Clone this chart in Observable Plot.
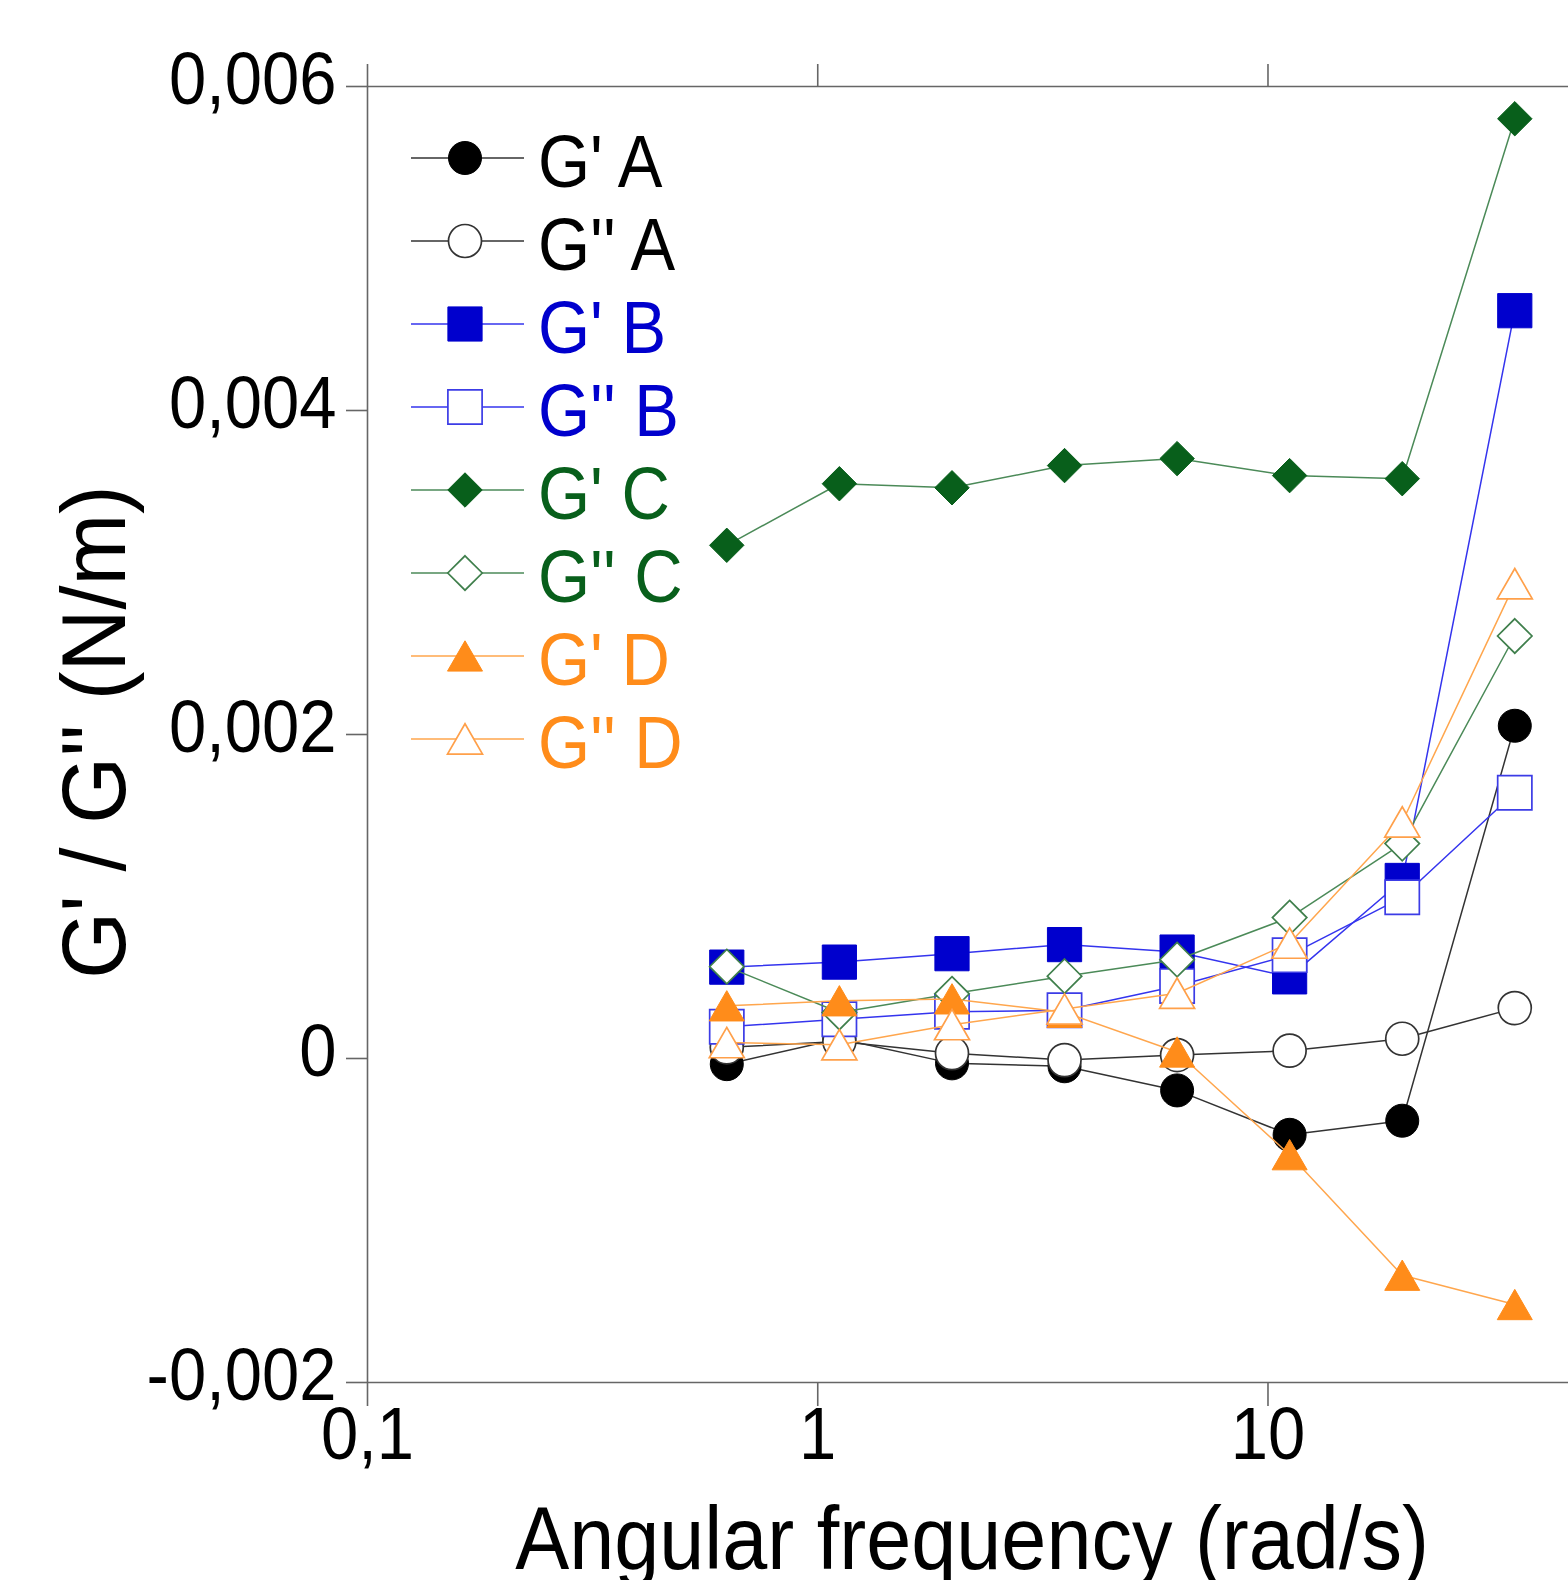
<!DOCTYPE html>
<html>
<head>
<meta charset="utf-8">
<script src="https://cdn.jsdelivr.net/npm/d3@7"></script>
<script src="https://cdn.jsdelivr.net/npm/@observablehq/plot@0.6"></script>
<style>
html, body { margin: 0; padding: 0; background: #fff; }
#chart { width: 1568px; height: 1580px; overflow: hidden; position: relative; }
</style>
</head>
<body>
<div id="chart"></div>
<script>
// ---------- data ----------
const freq = [0.628, 1.117, 1.987, 3.533, 6.283, 11.17, 19.87, 35.33]; // rad/s
const seriesNames = ["G' A", "G'' A", "G' B", "G'' B", "G' C", "G'' C", "G' D", "G'' D"];
const gpA  = [-0.000035, 0.000122, -0.000030, -0.000048, -0.000197, -0.000471, -0.000384, 0.002054];
const gppA = [0.000069, 0.000105, 0.000033, -0.000010, 0.000021, 0.000048, 0.000122, 0.000311];
const gpB  = [0.000564, 0.000595, 0.000647, 0.000703, 0.000657, 0.000504, 0.001099, 0.004616];
const gppB = [0.000196, 0.000242, 0.000288, 0.000298, 0.000447, 0.000638, 0.000995, 0.001640];
const gpC  = [0.003168, 0.003548, 0.003523, 0.003660, 0.003703, 0.003598, 0.003579, 0.005801];
const gppC = [0.000567, 0.000284, 0.000399, 0.000508, 0.000610, 0.000870, 0.001327, 0.002608];
const gpD  = [0.000325, 0.000356, 0.000368, 0.000285, 0.000040, -0.000594, -0.001338, -0.001519];
const gppD = [0.000098, 0.000085, 0.000209, 0.000305, 0.000403, 0.000712, 0.001460, 0.002931];
const xTicks = [0.1, 1, 10];
const yTicks = [-0.002, 0, 0.002, 0.004, 0.006];

// ---------- styles ----------
const seriesValues = [gpA, gppA, gpB, gppB, gpC, gppC, gpD, gppD];
const markerColors = ["#000000", "#000000", "#0000cd", "#0000cd", "#085f1b", "#085f1b", "#ff8c1a", "#ff8c1a"];
const lineColors   = ["#333333", "#333333", "#3434ee", "#3434ee", "#4b8a58", "#4b8a58", "#ffa64d", "#ffa64d"];
const openStroke   = ["#333333", "#333333", "#3c3ce6", "#3c3ce6", "#3f7f4c", "#3f7f4c", "#ffa04a", "#ffa04a"];
const symbolNames  = ["circle", "circle", "square", "square", "diamond2", "diamond2", "triangle", "triangle"];
const filled       = [true, false, true, false, true, false, true, false];
const symbolR = {circle: 16.5, square: 19.3, diamond2: 15.5, triangle: 13};
const symbolDy = {circle: 0, square: 0, diamond2: 0, triangle: 5};
const d3Symbols = {circle: d3.symbolCircle, square: d3.symbolSquare, diamond2: d3.symbolDiamond2, triangle: d3.symbolTriangle};

const FONT = "'Liberation Sans', Arial, Helvetica, sans-serif";
const fmtY = d => d === 0 ? "0" : d.toFixed(3).replace(".", ",");
const fmtX = d => String(d).replace(".", ",");

const tables = seriesValues.map((vals, s) => freq.map((f, i) => ({series: seriesNames[s], x: f, y: vals[i]})));

const seriesMarks = tables.flatMap((t, s) => {
  const sym = symbolNames[s];
  return [
    Plot.line(t, {x: "x", y: "y", stroke: lineColors[s], strokeWidth: 1.5}),
    Plot.dot(t, {
      x: "x", y: "y", symbol: () => sym, r: symbolR[sym], dy: symbolDy[sym],
      fill: filled[s] ? markerColors[s] : "white",
      stroke: filled[s] ? markerColors[s] : openStroke[s],
      strokeWidth: filled[s] ? 1 : 1.7
    })
  ];
});

const chart = Plot.plot({
  width: 1568,
  height: 1580,
  marginLeft: 367,
  marginRight: 0,
  marginTop: 86,
  marginBottom: 198,
  style: {fontFamily: FONT, background: "white", color: "#000"},
  x: {type: "log", domain: [0.1, 46.5]},
  y: {domain: [-0.002, 0.006]},
  symbol: {type: "identity"},
  marks: [
    Plot.ruleX([0.1], {stroke: "#666", strokeWidth: 1.6}),
    Plot.ruleY([-0.002, 0.006], {stroke: "#666", strokeWidth: 1.6}),
    // y ticks (marks only)
    Plot.axisY({ticks: yTicks, tickSize: 21, tickFormat: () => "", stroke: "#666", strokeWidth: 1.6, label: null}),
    // y tick labels
    Plot.axisY({ticks: yTicks, tickSize: 0, tickPadding: 31, tickFormat: fmtY, fontSize: 67, fill: "#000", dy: -6, label: null}),
    Plot.axisX({anchor: "bottom", ticks: xTicks, tickSize: 24, tickPadding: 0, tickFormat: fmtX, fontSize: 67, stroke: "#666", strokeWidth: 1.6, fill: "#000", label: null}),
    Plot.axisX({anchor: "top", ticks: xTicks, tickSize: 23, tickFormat: () => "", stroke: "#666", strokeWidth: 1.6, label: null}),
    ...seriesMarks
  ]
});

document.getElementById("chart").appendChild(chart);

// stretch text glyphs vertically, like the original's taller type
d3.select(chart).selectAll("text").each(function () {
  const t = this.getAttribute("transform") || "";
  this.setAttribute("transform", (t + " scale(1,1.1)").trim());
});

const svg = d3.select(chart);

// axis titles
svg.append("text")
  .attr("transform", "translate(972,1569) scale(1,1.1)")
  .attr("text-anchor", "middle")
  .attr("font-family", FONT).attr("font-size", 81).attr("fill", "#000")
  .text("Angular frequency (rad/s)");
svg.append("text")
  .attr("transform", "translate(125,732) rotate(-90) scale(1,1.06)")
  .attr("text-anchor", "middle")
  .attr("font-family", FONT).attr("font-size", 86).attr("fill", "#000")
  .text("G' / G'' (N/m)");

// legend
const leg = svg.append("g");
seriesNames.forEach((name, s) => {
  const y = 158 + s * 83;
  const sym = symbolNames[s];
  leg.append("line").attr("x1", 411).attr("x2", 524).attr("y1", y).attr("y2", y)
    .attr("stroke", lineColors[s]).attr("stroke-width", 1.5);
  leg.append("path")
    .attr("d", d3.symbol(d3Symbols[sym], Math.PI * symbolR[sym] * symbolR[sym])())
    .attr("transform", `translate(465,${y + symbolDy[sym]})`)
    .attr("fill", filled[s] ? markerColors[s] : "white")
    .attr("stroke", filled[s] ? markerColors[s] : openStroke[s])
    .attr("stroke-width", filled[s] ? 1 : 1.7);
  leg.append("text")
    .attr("transform", `translate(538,${y + 29}) scale(1,1.1)`)
    .attr("text-anchor", "start")
    .attr("font-family", FONT).attr("font-size", 67)
    .attr("fill", markerColors[s])
    .text(name);
});
</script>
</body>
</html>
